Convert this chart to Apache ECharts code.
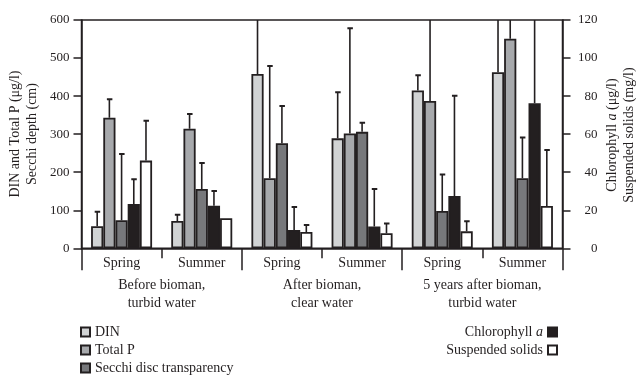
<!DOCTYPE html>
<html>
<head>
<meta charset="utf-8">
<script src="https://cdn.jsdelivr.net/npm/echarts@6/dist/echarts.min.js"></script>
<style>html,body{margin:0;padding:0;background:#fff}#c{width:636px;height:375px}</style>
</head>
<body>
<div id="c"></div>
<script>
// ---- data ----
var seasons = ['Spring', 'Summer', 'Spring', 'Summer', 'Spring', 'Summer'];
var periods = ['Before bioman,\nturbid water', 'After bioman,\nclear water', '5 years after bioman,\nturbid water'];
var leftTicks = [0, 600, 100];
var rightTicks = [0, 120, 20];

var din       = [58, 72, 458, 289, 415, 463];
var dinErr    = [96, 88, 680, 410, 455, 680];
var totalP    = [343, 314, 184, 302, 387, 551];
var totalPErr = [392, 353, 479, 578, 680, 680];
var secchi    = [74, 156, 276, 306, 98, 184];
var secchiErr = [248, 224, 374, 330, 194, 291];
var chl       = [23.3, 22.4, 9.6, 11.4, 27.5, 76.2];
var chlErr    = [36.3, 30.1, 21.7, 31.2, 80.2, 140];
var ss        = [46.1, 15.8, 8.6, 7.9, 8.9, 22.2];
var ssErr     = [67.1, null, 12.3, 13.0, 14.2, 51.7];

// ---- style ----
var INK = '#231f20';
var FONT = '"Liberation Serif", "DejaVu Serif", serif';
var BAR_W = 12.2;
var colors = ['#d1d3d4', '#a7a9ac', '#77787b', '#231f20', '#ffffff'];

function bar(name, vals, yIdx, k) {
  return {
    type: 'bar', name: name, xAxisIndex: 0, yAxisIndex: yIdx, data: vals,
    barWidth: BAR_W, barGap: '0%',
    itemStyle: { color: colors[k], borderColor: INK, borderWidth: 1.8 },
    emphasis: { disabled: true }, animation: false
  };
}
function err(vals, errs, yIdx, k) {
  var d = [];
  for (var i = 0; i < vals.length; i++) if (errs[i] != null) d.push([i, vals[i], errs[i]]);
  return {
    type: 'custom', xAxisIndex: 0, yAxisIndex: yIdx, clip: true, z: 5, silent: true, animation: false,
    data: d, encode: { x: 0, y: [1, 2] },
    renderItem: function (params, api) {
      var b = api.coord([api.value(0), api.value(1)]);
      var t = api.coord([api.value(0), api.value(2)]);
      var x = b[0] + (k - 2) * BAR_W;
      var st = { stroke: INK, lineWidth: 1.6 };
      return { type: 'group', children: [
        { type: 'line', shape: { x1: x, y1: b[1], x2: x, y2: t[1] }, style: st },
        { type: 'line', shape: { x1: x - 2.5, y1: t[1], x2: x + 3, y2: t[1] }, style: { stroke: INK, lineWidth: 2 } }
      ] };
    }
  };
}

var legendText = {
  fontFamily: FONT, fontSize: 14, color: INK, lineHeight: 14,
  rich: { n: { fontFamily: FONT, fontSize: 14, color: INK }, i: { fontFamily: FONT, fontSize: 14, color: INK, fontStyle: 'italic' } }
};
function legendFmt(n) { return n === 'Chlorophyll a' ? '{n|Chlorophyll }{i|a}' : n; }

var chart = echarts.init(document.getElementById('c'), null, { renderer: 'canvas' });
chart.setOption({
  animation: false,
  backgroundColor: '#fff',
  grid: { left: 81.5, right: 73.5, top: 20, bottom: 126.7, show: true, borderColor: INK, borderWidth: 1.5, backgroundColor: 'transparent' },
  xAxis: [
    { type: 'category', position: 'bottom', data: seasons,
      axisLine: { lineStyle: { color: INK, width: 1.5 } },
      axisTick: { show: true, length: 10, lineStyle: { color: INK, width: 1.5 } },
      axisLabel: { fontFamily: FONT, fontSize: 14, color: INK, margin: 8, lineHeight: 14 } },
    { type: 'category', position: 'bottom', data: periods,
      axisLine: { show: false },
      axisTick: { show: true, length: 22, lineStyle: { color: INK, width: 1.5 } },
      axisLabel: { fontFamily: FONT, fontSize: 14, color: INK, margin: 28, lineHeight: 18 } }
  ],
  yAxis: [
    { type: 'value', position: 'left', min: leftTicks[0], max: leftTicks[1], interval: leftTicks[2],
      splitLine: { show: false },
      axisLine: { show: true, lineStyle: { color: INK, width: 1.5 } },
      axisTick: { show: true, length: 8, lineStyle: { color: INK, width: 1.5 } },
      axisLabel: { fontFamily: FONT, fontSize: 13, color: INK, margin: 12 } },
    { type: 'value', position: 'right', min: rightTicks[0], max: rightTicks[1], interval: rightTicks[2],
      splitLine: { show: false },
      axisLine: { show: true, lineStyle: { color: INK, width: 1.5 } },
      axisTick: { show: true, length: 8, lineStyle: { color: INK, width: 1.5 } },
      axisLabel: { fontFamily: FONT, fontSize: 13, color: INK, margin: 35, align: 'right' } }
  ],
  legend: [
    { orient: 'vertical', left: 80, top: 325, itemWidth: 9, itemHeight: 9, itemGap: 4, padding: 0,
      icon: 'rect', data: ['DIN', 'Total P', 'Secchi disc transparency'], textStyle: legendText,
      selectedMode: false },
    { orient: 'vertical', right: 78, top: 325, itemWidth: 9, itemHeight: 9, itemGap: 4, padding: 0, align: 'right',
      icon: 'rect', data: ['Chlorophyll a'], textStyle: legendText, formatter: legendFmt, selectedMode: false },
    { orient: 'vertical', right: 78, top: 343, itemWidth: 9, itemHeight: 9, itemGap: 4, padding: 0, align: 'right',
      icon: 'rect', data: ['Suspended solids'], textStyle: legendText, selectedMode: false }
  ],
  graphic: [
    { type: 'text', x: 24, y: 134, rotation: Math.PI / 2,
      style: { text: 'DIN and Total P (μg/l)\nSecchi depth (cm)', font: '14px ' + FONT, fill: INK,
        align: 'center', verticalAlign: 'middle', lineHeight: 17 } },
    { type: 'text', x: 621, y: 135, rotation: Math.PI / 2,
      style: { text: '{n|Chlorophyll }{i|a}{n| (μg/l)}\n{n|Suspended solids (mg/l)}', fill: INK,
        align: 'center', verticalAlign: 'middle', lineHeight: 17,
        rich: { n: { fontFamily: FONT, fontSize: 14, fill: INK, lineHeight: 17 },
                i: { fontFamily: FONT, fontSize: 14, fill: INK, fontStyle: 'italic', lineHeight: 17 } } } }
  ],
  series: [
    bar('DIN', din, 0, 0),
    bar('Total P', totalP, 0, 1),
    bar('Secchi disc transparency', secchi, 0, 2),
    bar('Chlorophyll a', chl, 1, 3),
    bar('Suspended solids', ss, 1, 4),
    err(din, dinErr, 0, 0),
    err(totalP, totalPErr, 0, 1),
    err(secchi, secchiErr, 0, 2),
    err(chl, chlErr, 1, 3),
    err(ss, ssErr, 1, 4)
  ]
});
</script>
</body>
</html>
